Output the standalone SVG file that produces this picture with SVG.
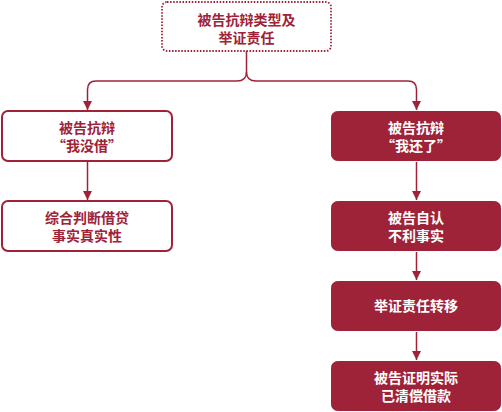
<svg xmlns="http://www.w3.org/2000/svg" width="502" height="412" viewBox="0 0 502 412">
<defs>
<marker id="arr" viewBox="0 0 10 10" refX="10" refY="5" markerWidth="9" markerHeight="9" markerUnits="userSpaceOnUse" orient="auto">
<path d="M0,0 L10,5 L0,10 Z" fill="#9E2338"/>
</marker>
<style>
.t{font-family:"Noto Sans CJK SC","Noto Sans",sans-serif;font-size:14px;font-weight:bold;text-anchor:middle}
.r{fill:#9E2338}
.w{fill:#ffffff}
.ob{fill:#ffffff;stroke:#9E2338;stroke-width:2}
.fb{fill:#9E2338;stroke:#9E2338;stroke-width:1}
.c{fill:none;stroke:#9E2338;stroke-width:1.5}
</style>
</defs>
<rect width="502" height="412" fill="#ffffff"/>
<g id="connectors">
<path class="c" d="M246.5,51 V72 Q246.5,81 237,81 H96 Q87.5,81 87.5,89.5 V110" marker-end="url(#arr)"/>
<path class="c" d="M246.5,72 Q246.5,81 256,81 H408 Q416.5,81 416.5,89.5 V110" marker-end="url(#arr)"/>
<path class="c" d="M87.5,162 V200" marker-end="url(#arr)"/>
<path class="c" d="M416.5,162 V200" marker-end="url(#arr)"/>
<path class="c" d="M416.5,252 V280" marker-end="url(#arr)"/>
<path class="c" d="M416.5,332 V360" marker-end="url(#arr)"/>
</g>
<g id="top">
<rect x="162" y="2" width="169" height="49" rx="5" fill="#ffffff" stroke="#9E2338" stroke-width="1.8" stroke-dasharray="1.5 1.6"/>
<text class="t r" x="246.5" y="24.5">被告抗辩类型及</text>
<text class="t r" x="246.5" y="42.5">举证责任</text>
</g>
<g id="left1">
<rect class="ob" x="2" y="111" width="170" height="50" rx="6"/>
<text class="t r" x="87" y="133">被告抗辩</text>
<text class="t r" x="87" y="151">“我没借”</text>
</g>
<g id="left2">
<rect class="ob" x="2" y="201" width="170" height="50" rx="6"/>
<text class="t r" x="87" y="223">综合判断借贷</text>
<text class="t r" x="87" y="241">事实真实性</text>
</g>
<g id="right1">
<rect class="fb" x="331.5" y="111.5" width="169" height="49" rx="6"/>
<text class="t w" x="416" y="133">被告抗辩</text>
<text class="t w" x="416" y="151">“我还了”</text>
</g>
<g id="right2">
<rect class="fb" x="331.5" y="201.5" width="169" height="49" rx="6"/>
<text class="t w" x="416" y="223">被告自认</text>
<text class="t w" x="416" y="241">不利事实</text>
</g>
<g id="right3">
<rect class="fb" x="331.5" y="281.5" width="169" height="49" rx="6"/>
<text class="t w" x="416" y="311">举证责任转移</text>
</g>
<g id="right4">
<rect class="fb" x="331.5" y="361.5" width="169" height="49" rx="6"/>
<text class="t w" x="416" y="383">被告证明实际</text>
<text class="t w" x="416" y="401">已清偿借款</text>
</g>
</svg>
